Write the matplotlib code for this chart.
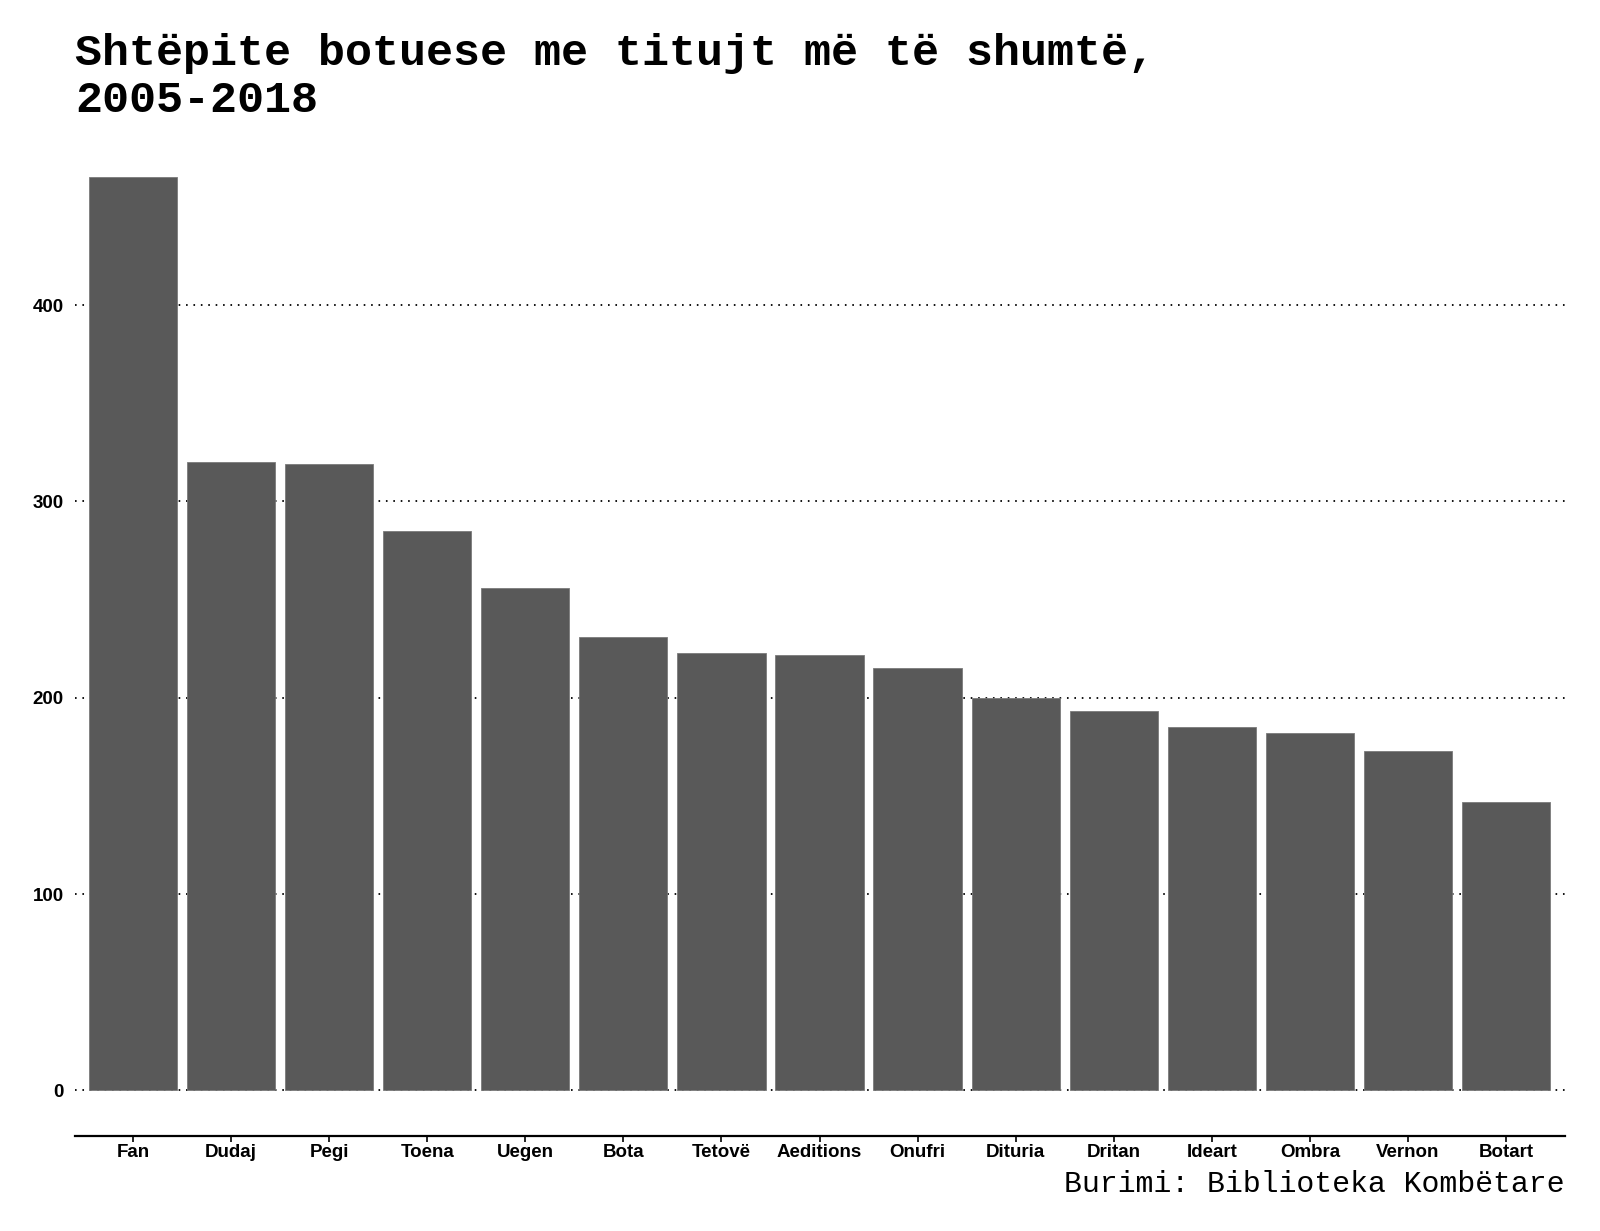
import numpy as np
import matplotlib.pyplot as plt

publishers = ["Fan", "Dudaj", "Pegi", "Toena", "Uegen", "Bota", "Tetovë", "Aeditions",
              "Onufri", "Dituria", "Dritan", "Ideart", "Ombra", "Vernon", "Botart"]
titles = [465, 320, 319, 285, 256, 231, 223, 222, 215, 200, 193, 185, 182, 173, 147]
yticks = [0, 100, 200, 300, 400]

fig = plt.figure(figsize=(16, 12.31), dpi=100)
ax = fig.add_axes([75/1600, 1 - 1136/1231, (1565-75)/1600, 1004.2/1231])

x = np.arange(len(publishers))
ax.bar(x, titles, width=0.9, color="#595959", edgecolor="#7a7a7a", linewidth=0.6, zorder=2)

for y in yticks:
    ax.axhline(y, color="black", lw=1.3, linestyle=(0, (0.9, 3.2)), zorder=1)

ax.set_xlim(-0.59, 14.6)
ax.set_ylim(-23.25, 488.25)
ax.set_xticks(x)
ax.set_xticklabels(publishers, fontfamily="Liberation Sans", fontweight="bold", fontsize=13.5)
ax.set_yticks(yticks)
ax.set_yticklabels([str(v) for v in yticks], fontfamily="Liberation Sans", fontweight="bold", fontsize=13.5)
ax.tick_params(axis="y", length=0, pad=8)
ax.tick_params(axis="x", length=4, width=1.2, pad=1.5)

for s in ["top", "right", "left"]:
    ax.spines[s].set_visible(False)
ax.spines["bottom"].set_linewidth(1.6)

# title: two lines, anchored on baseline of the second line
fig.text(75/1600, 1 - 112/1231, "Shtëpite botuese me titujt më të shumtë,\n2005-2018",
         fontfamily="Liberation Mono", fontweight="bold", fontsize=32.4,
         ha="left", va="baseline", linespacing=1.2)
fig.text(1565/1600, 1 - 1192/1231, "Burimi: Biblioteka Kombëtare",
         fontfamily="Liberation Mono", fontsize=21.5, ha="right", va="baseline")

fig.savefig("out.png", dpi=100)
